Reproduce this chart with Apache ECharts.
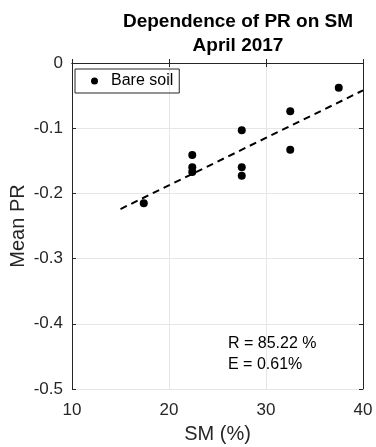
<!DOCTYPE html>
<html><head><meta charset="utf-8">
<script src="https://cdn.jsdelivr.net/npm/echarts@6/dist/echarts.min.js"></script>
<style>html,body{margin:0;padding:0;background:#fff}#c{width:376px;height:447px}</style>
</head><body><div id="c"></div>
<script>
const smValues = [17.4, 22.4, 22.4, 22.4, 27.5, 27.5, 27.5, 32.5, 32.5, 37.5];
const prValues = [-0.215, -0.141, -0.160, -0.167, -0.103, -0.160, -0.173, -0.074, -0.133, -0.038];
const fitX = [15, 40];
const fitY = [-0.224, -0.042];
const xTicks = [10, 20, 30, 40];
const yTicks = [-0.5, -0.4, -0.3, -0.2, -0.1, 0];
const seriesName = 'Bare soil';
const statsText = ['R = 85.22 %', 'E = 0.61%'];

const font = 'Helvetica, "Liberation Sans", Arial, sans-serif';
const chart = echarts.init(document.getElementById('c'));
const axisCommon = {
  axisLine: {show: true, lineStyle: {color: '#262626', width: 1}},
  axisTick: {show: true, inside: true, length: 4, lineStyle: {color: '#262626'}},
  splitLine: {show: false}
};
chart.setOption({
  animation: false,
  backgroundColor: '#fff',
  title: [{
    text: 'Dependence of PR on SM\nApril 2017',
    left: 233, top: 5, textAlign: 'center',
    textStyle: {fontFamily: font, fontSize: 19, fontWeight: 'bold', color: '#000', lineHeight: 24}
  }],
  legend: {
    data: [{name: seriesName, icon: 'circle'}],
    left: 75, top: 69, itemWidth: 7, itemHeight: 7, itemGap: 0,
    padding: [4, 6, 4, 16],
    borderColor: '#262626', borderWidth: 1, borderRadius: 0,
    textStyle: {fontFamily: font, fontSize: 16, color: '#000', padding: [0, 0, 0, 8]}
  },
  grid: {left: 72, right: 13, top: 63, bottom: 58, containLabel: false, outerBoundsMode: 'none'},
  xAxis: [
    Object.assign({}, axisCommon, {
      type: 'value', min: 10, max: 40, interval: 10, position: 'bottom',
      name: 'SM (%)', nameLocation: 'middle', nameGap: 35, nameMoveOverlap: false,
      nameTextStyle: {fontFamily: font, fontSize: 20, color: '#262626'},
      axisLabel: {fontFamily: font, fontSize: 17, color: '#262626', margin: 13,
        formatter: v => xTicks.includes(v) ? String(v) : ''},
      splitLine: {show: true, lineStyle: {color: '#e6e6e6', width: 1}}
    }),
    Object.assign({}, axisCommon, {
      type: 'value', min: 10, max: 40, interval: 10, position: 'top',
      axisLabel: {show: false}
    })
  ],
  yAxis: [
    Object.assign({}, axisCommon, {
      type: 'value', min: -0.5, max: 0, interval: 0.1, position: 'left',
      name: 'Mean PR', nameLocation: 'middle', nameGap: 44, nameRotate: 90, nameMoveOverlap: false,
      nameTextStyle: {fontFamily: font, fontSize: 20, color: '#262626'},
      axisLabel: {fontFamily: font, fontSize: 17, color: '#262626', margin: 9,
        formatter: v => {
          const t = yTicks.find(y => Math.abs(y - v) < 1e-9);
          return t === undefined ? '' : (t === 0 ? '0' : String(t));
        }},
      splitLine: {show: true, lineStyle: {color: '#e6e6e6', width: 1}}
    }),
    Object.assign({}, axisCommon, {
      type: 'value', min: -0.5, max: 0, interval: 0.1, position: 'right',
      axisLabel: {show: false}
    })
  ],
  series: [
    {
      name: seriesName, type: 'scatter', symbol: 'circle', symbolSize: 8,
      itemStyle: {color: '#000', opacity: 1},
      data: smValues.map((x, i) => [x, prValues[i]]), z: 5
    },
    {
      name: 'fit', type: 'line', symbol: 'none',
      lineStyle: {color: '#000', width: 2, type: [7, 5]},
      data: fitX.map((x, i) => [x, fitY[i]]), z: 4
    }
  ],
  graphic: [{
    type: 'text', left: 228, top: 333,
    style: {text: statsText.join('\n'), fontFamily: font, fontSize: 16, fill: '#000', lineHeight: 21}
  }]
});
</script></body></html>
